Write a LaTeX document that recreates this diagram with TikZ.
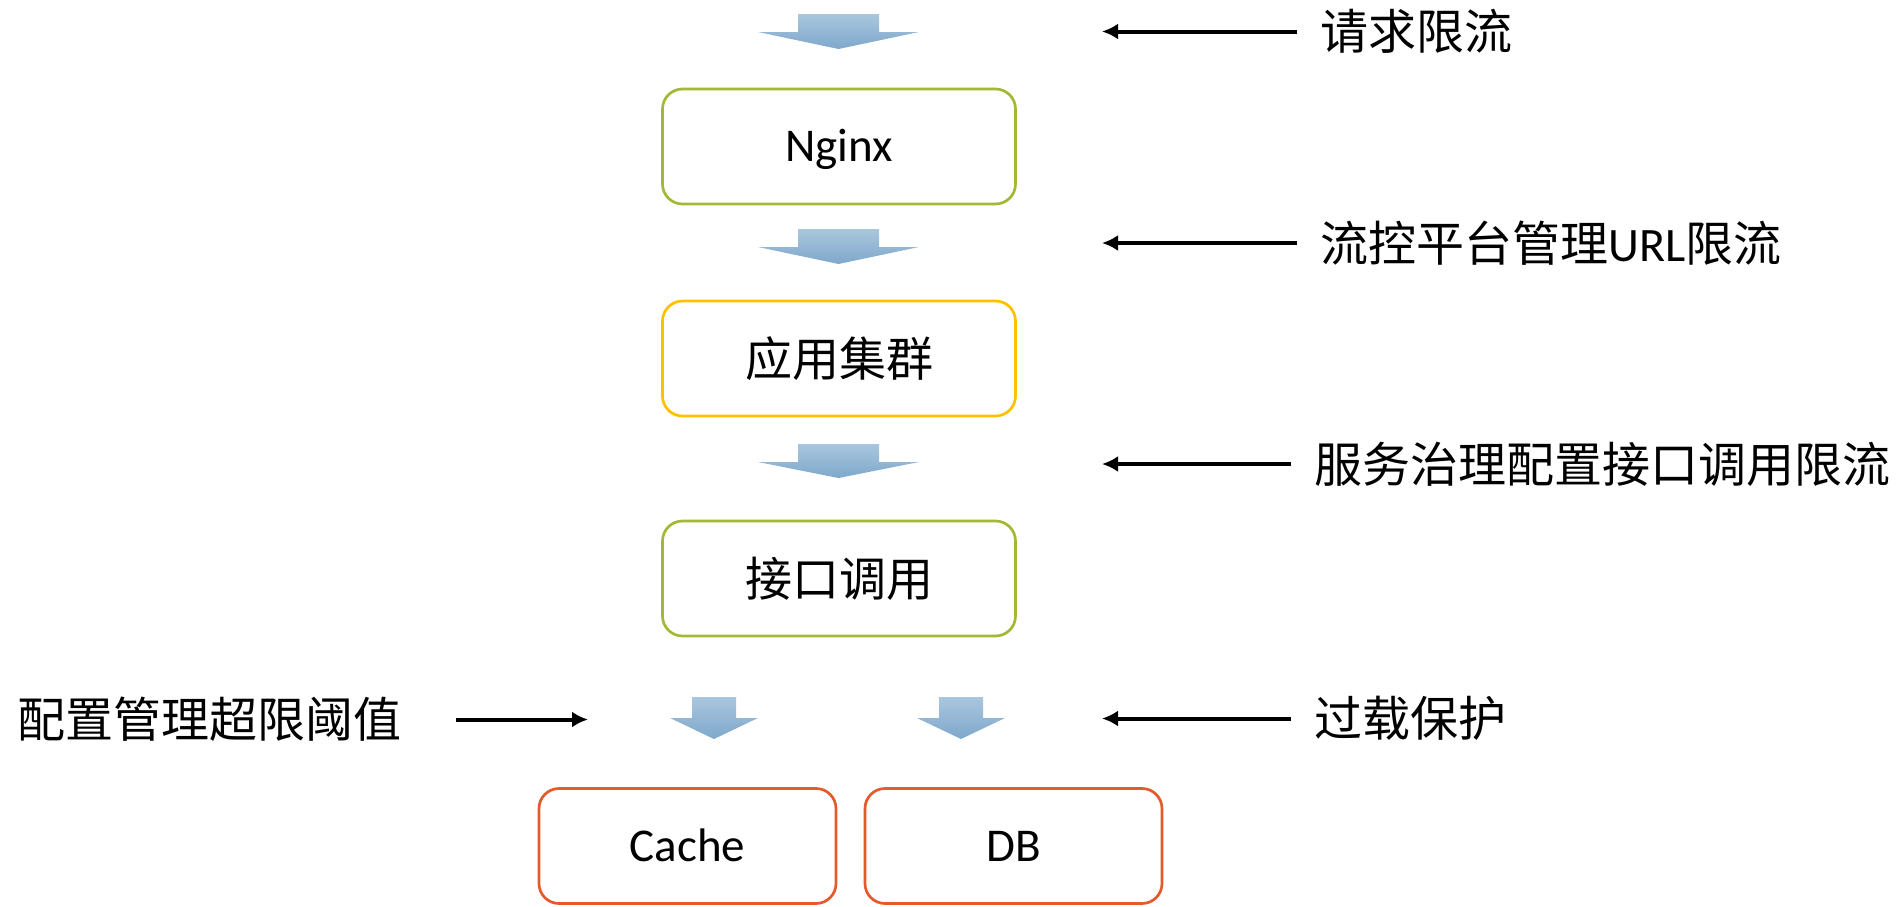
\documentclass[tikz,border=0pt]{standalone}
\usepackage{fontspec}
\setmainfont{Carlito}
\newfontfamily\cjk{Noto Sans CJK SC}
\usetikzlibrary{arrows.meta}
\definecolor{stagegreen}{HTML}{A2B935}
\definecolor{stagegold}{HTML}{FFC000}
\definecolor{stagered}{HTML}{E55A2B}
\definecolor{flowtop}{HTML}{AAC6DE}
\definecolor{flowbottom}{HTML}{7EA8CB}
\tikzset{
  stage/.style={draw, rounded corners=10pt, line width=1.35pt, minimum width=176.5pt, minimum height=57.5pt, font=\fontsize{23.5pt}{28pt}\selectfont},
  latin/.style={text height=15pt, text depth=0pt},
  flow/.style={top color=flowtop, bottom color=flowbottom, draw=none},
  note/.style={inner sep=0pt, font=\cjk\fontsize{24pt}{29pt}\selectfont},
  pointer/.style={line width=2pt, -{Latex[length=8pt,width=8pt]}}
}
\begin{document}
\begin{tikzpicture}[x=0.5pt, y=-0.5pt]
        \useasboundingbox (0,0) rectangle (1903,906);
        \node[stage, latin, draw=stagegreen] (nginx) at (839, 146.5) {Nginx};
        \node[stage, draw=stagegold] (app) at (839, 358.5) {\cjk 应用集群};
        \node[stage, draw=stagegreen] (api) at (839, 578.5) {\cjk 接口调用};
        \node[stage, latin, draw=stagered, minimum width=148.5pt] (cache) at (687.5, 846) {Cache};
        \node[stage, latin, draw=stagered, minimum width=148.5pt] (db) at (1013.5, 846) {DB};
        \shade[flow] (838.5 - 40.5, 14) -- (838.5 + 40.5, 14) -- (838.5 + 40.5, 32) -- (838.5 + 80.5, 32) -- (838.5, 49) -- (838.5 - 80.5, 32) -- (838.5 - 40.5, 32) -- cycle;
        \shade[flow] (838.5 - 40.5, 229) -- (838.5 + 40.5, 229) -- (838.5 + 40.5, 247) -- (838.5 + 80.5, 247) -- (838.5, 264) -- (838.5 - 80.5, 247) -- (838.5 - 40.5, 247) -- cycle;
        \shade[flow] (838.5 - 40.5, 444) -- (838.5 + 40.5, 444) -- (838.5 + 40.5, 462) -- (838.5 + 80.5, 462) -- (838.5, 478) -- (838.5 - 80.5, 462) -- (838.5 - 40.5, 462) -- cycle;
        \shade[flow] (714 - 22, 697) -- (714 + 22, 697) -- (714 + 22, 718) -- (714 + 44, 718) -- (714, 739) -- (714 - 44, 718) -- (714 - 22, 718) -- cycle;
        \shade[flow] (961 - 22, 697) -- (961 + 22, 697) -- (961 + 22, 718) -- (961 + 44, 718) -- (961, 739) -- (961 - 44, 718) -- (961 - 22, 718) -- cycle;
        \node[note, anchor=west] (limit1) at (1320, 31.5) {请求限流}; \coordinate (tip1) at (1102, 31.5); \draw[pointer, shorten <=11.5pt] (limit1.west) -- (tip1);
        \node[note, anchor=west] (limit2) at (1320, 243) {流控平台管理{\rmfamily URL}限流}; \coordinate (tip2) at (1102, 243); \draw[pointer, shorten <=11.5pt] (limit2.west) -- (tip2);
        \node[note, anchor=west] (limit3) at (1314, 464) {服务治理配置接口调用限流}; \coordinate (tip3) at (1102, 464); \draw[pointer, shorten <=11.5pt] (limit3.west) -- (tip3);
        \node[note, anchor=west] (limit4) at (1314, 718.5) {过载保护}; \coordinate (tip4) at (1102, 718.5); \draw[pointer, shorten <=11.5pt] (limit4.west) -- (tip4);
        \node[note, anchor=west] (cfg) at (17.5, 719.5) {配置管理超限阈值}; \coordinate (tip5) at (588, 719.5); \draw[pointer, shorten <=27pt] (cfg.east) -- (tip5);
    \end{tikzpicture}
\end{document}
